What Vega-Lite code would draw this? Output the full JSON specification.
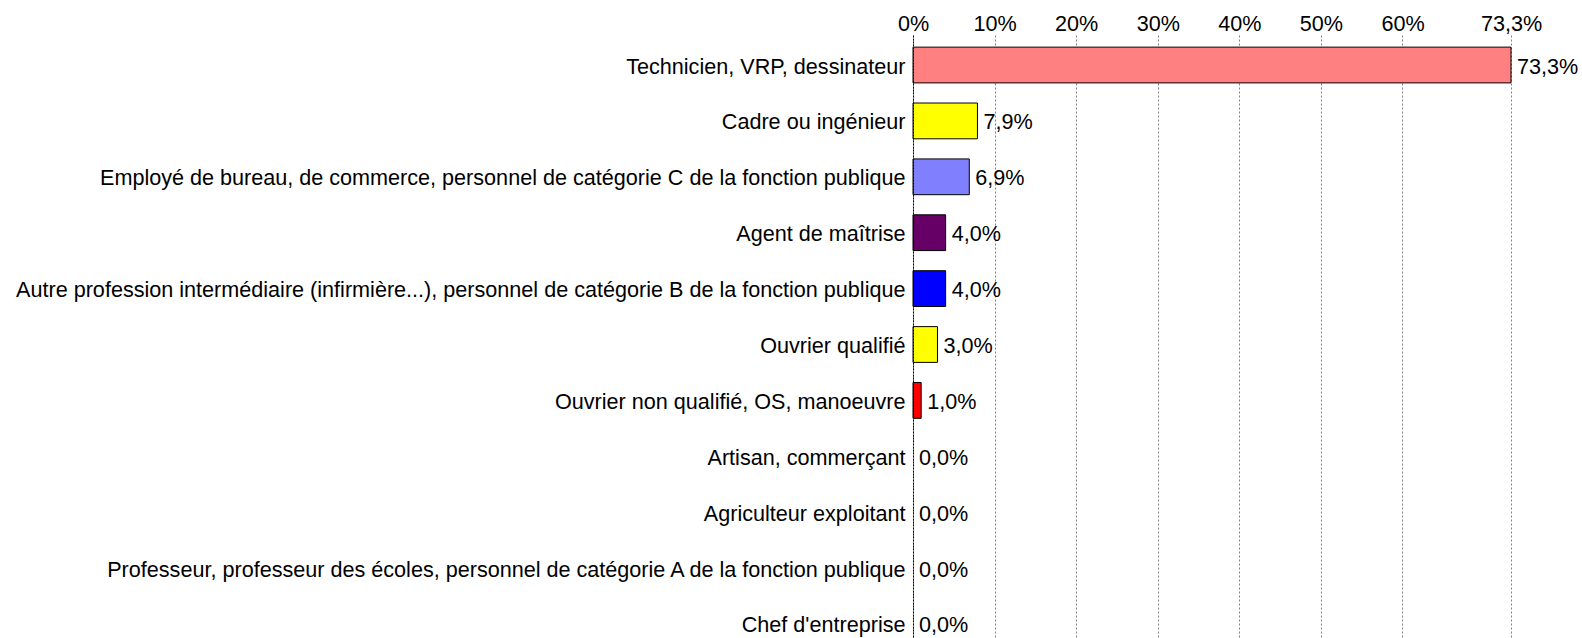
{
  "$schema": "https://vega.github.io/schema/vega-lite/v6.json",
  "autosize": "none",
  "padding": {"left": 913, "top": 35, "right": 71, "bottom": 0},
  "width": 598,
  "height": 603,
  "background": "white",
  "config": {
    "locale": {"number": {"decimal": ",", "thousands": " ", "grouping": [3], "currency": ["", " €"]}},
    "view": {"stroke": null},
    "font": "Liberation Sans"
  },
  "data": {
    "values": [
      {"cat": "Technicien, VRP, dessinateur", "pct": 0.733},
      {"cat": "Cadre ou ingénieur", "pct": 0.079},
      {"cat": "Employé de bureau, de commerce, personnel de catégorie C de la fonction publique", "pct": 0.069},
      {"cat": "Agent de maîtrise", "pct": 0.040},
      {"cat": "Autre profession intermédiaire (infirmière...), personnel de catégorie B de la fonction publique", "pct": 0.040},
      {"cat": "Ouvrier qualifié", "pct": 0.030},
      {"cat": "Ouvrier non qualifié, OS, manoeuvre", "pct": 0.010},
      {"cat": "Artisan, commerçant", "pct": 0.0},
      {"cat": "Agriculteur exploitant", "pct": 0.0},
      {"cat": "Professeur, professeur des écoles, personnel de catégorie A de la fonction publique", "pct": 0.0},
      {"cat": "Chef d'entreprise", "pct": 0.0}
    ]
  },
  "encoding": {
    "y": {
      "field": "cat",
      "type": "nominal",
      "sort": null,
      "scale": {"range": [0, 619], "paddingInner": 0.36, "paddingOuter": 0.217},
      "axis": {
        "title": null,
        "ticks": false,
        "labelPadding": 8,
        "labelOffset": 2.5,
        "labelLimit": 2000,
        "labelFontSize": 21.6,
        "labelFont": "Liberation Sans",
        "labelColor": "#000000",
        "domain": true,
        "domainColor": "#000000",
        "domainDash": [2, 1],
        "domainWidth": 1,
        "zindex": 2
      }
    },
    "x": {
      "field": "pct",
      "type": "quantitative",
      "scale": {"domain": [0, 0.733], "nice": false, "zero": true},
      "axis": {
        "orient": "top",
        "title": null,
        "values": [0, 0.1, 0.2, 0.3, 0.4, 0.5, 0.6, 0.733],
        "labelExpr": "datum.value > 0.7 ? format(datum.value, '.1%') : format(datum.value, '.0%')",
        "labelFontSize": 21.6,
        "labelFont": "Liberation Sans",
        "labelColor": "#000000",
        "labelPadding": 0,
        "labelFlush": false,
        "labelOverlap": false,
        "ticks": false,
        "domain": false,
        "grid": true,
        "gridColor": "#808080",
        "gridDash": [2, 2],
        "gridWidth": 1
      }
    }
  },
  "layer": [
    {
      "mark": {"type": "bar", "stroke": "#000000", "strokeWidth": 1},
      "encoding": {
        "color": {
          "field": "cat",
          "type": "nominal",
          "legend": null,
          "scale": {
            "domain": [
              "Technicien, VRP, dessinateur",
              "Cadre ou ingénieur",
              "Employé de bureau, de commerce, personnel de catégorie C de la fonction publique",
              "Agent de maîtrise",
              "Autre profession intermédiaire (infirmière...), personnel de catégorie B de la fonction publique",
              "Ouvrier qualifié",
              "Ouvrier non qualifié, OS, manoeuvre",
              "Artisan, commerçant",
              "Agriculteur exploitant",
              "Professeur, professeur des écoles, personnel de catégorie A de la fonction publique",
              "Chef d'entreprise"
            ],
            "range": ["#FF8080", "#FFFF00", "#8080FF", "#660066", "#0000FF", "#FFFF00", "#FF0000", "#00FFFF", "#800000", "#008080", "#000080"]
          }
        },
        "strokeOpacity": {"condition": {"test": "datum.pct > 0", "value": 1}, "value": 0}
      }
    },
    {
      "mark": {"type": "text", "align": "left", "baseline": "middle", "dx": 6, "dy": 2.5, "fontSize": 21.6, "font": "Liberation Sans", "color": "#000000"},
      "encoding": {
        "text": {"field": "pct", "type": "quantitative", "format": ".1%"}
      }
    }
  ]
}
